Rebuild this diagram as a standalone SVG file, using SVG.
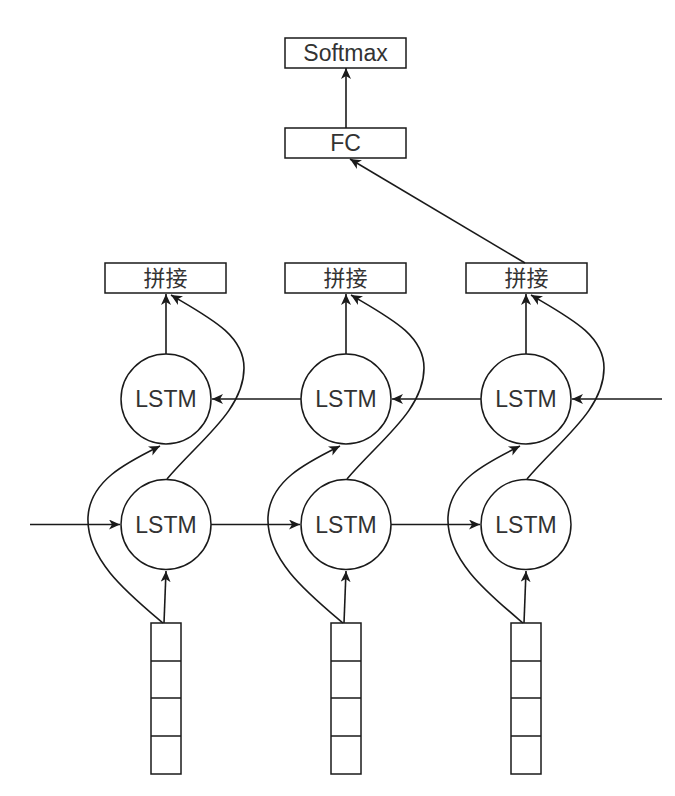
<svg xmlns="http://www.w3.org/2000/svg" width="675" height="796" viewBox="0 0 675 796">
<style>
.box{fill:#fff;stroke:#1a1a1a;stroke-width:1.5}
.cir{fill:#fff;stroke:#1a1a1a;stroke-width:1.5}
.txt{font-family:"Liberation Sans",Arial,sans-serif;font-size:23px;fill:#333;text-anchor:middle}
.cjk{font-family:"Liberation Sans","Noto Sans CJK SC",sans-serif;font-size:22px;fill:#333;text-anchor:middle}
.ln{fill:none;stroke:#1a1a1a;stroke-width:1.5}
.arr{fill:none;stroke:#1a1a1a;stroke-width:1.6;marker-end:url(#ah)}
</style>
<defs>
<marker id="ah" markerUnits="userSpaceOnUse" markerWidth="13" markerHeight="11" refX="11" refY="5" orient="auto">
<path d="M0,0 L11,5 L0,10 L3,5 Z" fill="#1a1a1a"/>
</marker>
</defs>
<rect width="675" height="796" fill="#fff"/>

<g id="softmax"><rect class="box" x="285" y="38" width="121" height="30"/><text class="txt" x="345.5" y="61">Softmax</text></g>
<g id="fc"><rect class="box" x="285" y="128" width="121" height="30"/><text class="txt" x="345.5" y="151">FC</text></g>

<g id="concat1"><rect class="box" x="105" y="263" width="121" height="30"/><text class="cjk" x="165.5" y="286">拼接</text></g>
<g id="concat2"><rect class="box" x="285" y="263" width="121" height="30"/><text class="cjk" x="345.5" y="286">拼接</text></g>
<g id="concat3"><rect class="box" x="466" y="263" width="121" height="30"/><text class="cjk" x="526.5" y="286">拼接</text></g>

<g id="lstm_up1"><circle class="cir" cx="166" cy="399" r="45"/><text class="txt" x="166" y="407">LSTM</text></g>
<g id="lstm_up2"><circle class="cir" cx="346" cy="399" r="45"/><text class="txt" x="346" y="407">LSTM</text></g>
<g id="lstm_up3"><circle class="cir" cx="526" cy="399" r="45"/><text class="txt" x="526" y="407">LSTM</text></g>

<g id="lstm_dn1"><circle class="cir" cx="166" cy="524.5" r="45"/><text class="txt" x="166" y="532.5">LSTM</text></g>
<g id="lstm_dn2"><circle class="cir" cx="346" cy="524.5" r="45"/><text class="txt" x="346" y="532.5">LSTM</text></g>
<g id="lstm_dn3"><circle class="cir" cx="526" cy="524.5" r="45"/><text class="txt" x="526" y="532.5">LSTM</text></g>

<g id="vec1"><rect class="box" x="151" y="623" width="30" height="151"/><path class="ln" d="M151,661H181M151,698H181M151,736H181"/></g>
<g id="vec2"><rect class="box" x="331" y="623" width="30" height="151"/><path class="ln" d="M331,661H361M331,698H361M331,736H361"/></g>
<g id="vec3"><rect class="box" x="511" y="623" width="30" height="151"/><path class="ln" d="M511,661H541M511,698H541M511,736H541"/></g>

<g id="connectors">
<path class="arr" d="M346,128V68"/>
<path class="arr" d="M525,263L350,159"/>

<path class="arr" d="M30,524.5H120"/>
<path class="arr" d="M211,524.5H300"/>
<path class="arr" d="M391,524.5H480"/>

<path class="arr" d="M662,399H572"/>
<path class="arr" d="M481,399H392"/>
<path class="arr" d="M301,399H212"/>

<path class="arr" d="M166,354V294"/>
<path class="arr" d="M346,354V294"/>
<path class="arr" d="M526,354V294"/>

<path class="arr" d="M164,623L166,571"/>
<path class="arr" d="M344,623L346,571"/>
<path class="arr" d="M524,623L526,571"/>

<path class="arr" d="M163,623C130,595 86,560 88,517C90,480 128,462 160,446"/>
<path class="arr" d="M343,623C310,595 266,560 268,517C270,480 308,462 340,446"/>
<path class="arr" d="M523,623C490,595 446,560 448,517C450,480 488,462 520,446"/>

<path class="arr" d="M167,479C200,440 244,410 244,368C244,335 210,318 171,295"/>
<path class="arr" d="M347,479C380,440 424,410 424,368C424,335 390,318 351,295"/>
<path class="arr" d="M527,479C560,440 604,410 604,368C604,335 570,318 531,295"/>
</g>
</svg>
